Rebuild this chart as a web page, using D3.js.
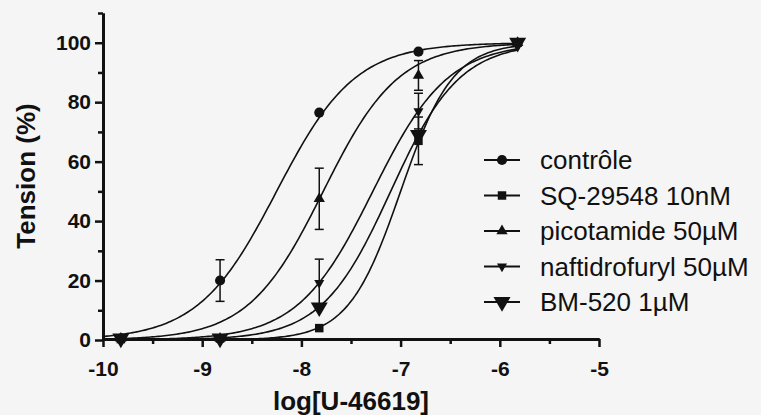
<!DOCTYPE html>
<html><head><meta charset="utf-8">
<script src="https://cdn.jsdelivr.net/npm/d3@7"></script>
<style>
html,body{margin:0;padding:0;background:#f5f5f5;}
svg{display:block;}
text{font-family:"Liberation Sans",Arial,sans-serif;fill:#111;}
</style></head>
<body><svg id="c" width="761" height="415"></svg>
<script>
// ---- data ----
const logDose = [-9.82, -8.82, -7.82, -6.82, -5.82];
const seriesNames = ["contrôle", "SQ-29548 10nM", "picotamide 50µM", "naftidrofuryl 50µM", "BM-520 1µM"];
const controle = [0.5, 20, 76.5, 97, 100];
const controleSem = [0, 7, 0, 0, 0];
const sq29548 = [0.3, 0.5, 4, 67, 100];
const sq29548Sem = [0, 0, 0, 8, 0];
const picotamide = [0.5, 0.5, 47.5, 89, 100];
const picotamideSem = [0, 0, 10.3, 5, 0];
const naftidrofuryl = [0.5, 0.5, 19.2, 77, 100];
const naftidrofurylSem = [0, 0, 8, 6, 0];
const bm520 = [0.5, 0.5, 11, 69, 100];
const bm520Sem = [0, 0, 0, 0, 0];
// fitted sigmoid parameters
const logEC50 = [-8.25, -7.0, -7.78, -7.28, -7.10];
const hillSlope = [1.1, 1.65, 1.15, 1.15, 1.25];
const xTicks = [-10, -9, -8, -7, -6, -5];
const yTicks = [0, 20, 40, 60, 80, 100];

const values = [controle, sq29548, picotamide, naftidrofuryl, bm520];
const sems = [controleSem, sq29548Sem, picotamideSem, naftidrofurylSem, bm520Sem];

const svg = d3.select("#c");
const x = d3.scaleLinear().domain([-10, -5]).range([103, 599]);
const y = d3.scaleLinear().domain([0, 110]).range([340, 13]);

// symbols
const symDefs = [
  {type: d3.symbolCircle, size: 80, rot: 0},
  {type: d3.symbolSquare, size: 72, rot: 0},
  {type: d3.symbolTriangle, size: 55, rot: 0},
  {type: d3.symbolTriangle, size: 44, rot: 180},
  {type: d3.symbolTriangle, size: 125, rot: 180}
];

// curves
const line = d3.line().x(d => x(d[0])).y(d => y(d[1]));
const xs = d3.range(-10, -5.82 + 1e-9, 0.02);
values.forEach((v, i) => {
  const pts = xs.map(t => [t, 100 / (1 + Math.pow(10, (logEC50[i] - t) * hillSlope[i]))]);
  svg.append("path").attr("d", line(pts)).attr("fill", "none")
    .attr("stroke", "#111").attr("stroke-width", 1.6);
});

// error bars & markers
values.forEach((v, i) => {
  const g = svg.append("g");
  v.forEach((val, j) => {
    const s = sems[i][j];
    if (s > 0) {
      const cx = x(logDose[j]);
      g.append("line").attr("x1", cx).attr("x2", cx).attr("y1", y(val - s)).attr("y2", y(val + s))
        .attr("stroke", "#111").attr("stroke-width", 1.5);
      [val - s, val + s].forEach(e => g.append("line").attr("x1", cx - 4.5).attr("x2", cx + 4.5)
        .attr("y1", y(e)).attr("y2", y(e)).attr("stroke", "#111").attr("stroke-width", 1.5));
    }
  });
  g.selectAll("path.m").data(v).enter().append("path")
    .attr("d", d3.symbol().type(symDefs[i].type).size(symDefs[i].size))
    .attr("transform", (d, j) => `translate(${x(logDose[j])},${y(d)}) rotate(${symDefs[i].rot})`)
    .attr("fill", "#111");
});

// axes
const yAxis = svg.append("g").attr("transform", "translate(103,0)")
  .call(d3.axisLeft(y).tickValues(yTicks).tickSize(8).tickPadding(4).tickSizeOuter(0));
const yMinor = svg.append("g").attr("transform", "translate(103,0)")
  .call(d3.axisLeft(y).tickValues([10, 30, 50, 70, 90, 110]).tickSize(5).tickFormat("").tickSizeOuter(0));
const xAxis = svg.append("g").attr("transform", "translate(0,339)")
  .call(d3.axisBottom(x).tickValues(xTicks).tickSize(8).tickPadding(14).tickSizeOuter(0));
const xMinor = svg.append("g").attr("transform", "translate(0,339)")
  .call(d3.axisBottom(x).tickValues([-9.5, -8.5, -7.5, -6.5, -5.5]).tickSize(5).tickFormat("").tickSizeOuter(0));
[yAxis, yMinor, xAxis, xMinor].forEach(a => {
  a.selectAll("path").attr("stroke", "#111").attr("stroke-width", 3);
  a.selectAll("line").attr("stroke", "#111").attr("stroke-width", 2.5);
  a.selectAll("text").attr("font-size", 21).attr("font-weight", "bold").attr("fill", "#111")
    .attr("font-family", "'Liberation Sans',Arial,sans-serif");
});
xAxis.selectAll("text").text(d => d3.format("d")(d).replace("−", "-"));

// titles
svg.append("text").attr("x", 351).attr("y", 410).attr("text-anchor", "middle")
  .attr("font-size", 26).attr("font-weight", "bold").text("log[U-46619]");
svg.append("text").attr("transform", "translate(35,176) rotate(-90)").attr("text-anchor", "middle")
  .attr("font-size", 26).attr("font-weight", "bold").text("Tension (%)");

// legend
const legY = d3.scaleLinear().domain([0, 4]).range([160, 302]);
seriesNames.forEach((n, i) => {
  const yy = legY(i);
  svg.append("line").attr("x1", 484).attr("x2", 520).attr("y1", yy).attr("y2", yy)
    .attr("stroke", "#111").attr("stroke-width", 1.8);
  svg.append("path").attr("d", d3.symbol().type(symDefs[i].type).size(symDefs[i].size))
    .attr("transform", `translate(502,${yy}) rotate(${symDefs[i].rot})`).attr("fill", "#111");
  svg.append("text").attr("x", 540).attr("y", yy).attr("dy", "0.35em")
    .attr("font-size", 26).text(n);
});
</script></body></html>
